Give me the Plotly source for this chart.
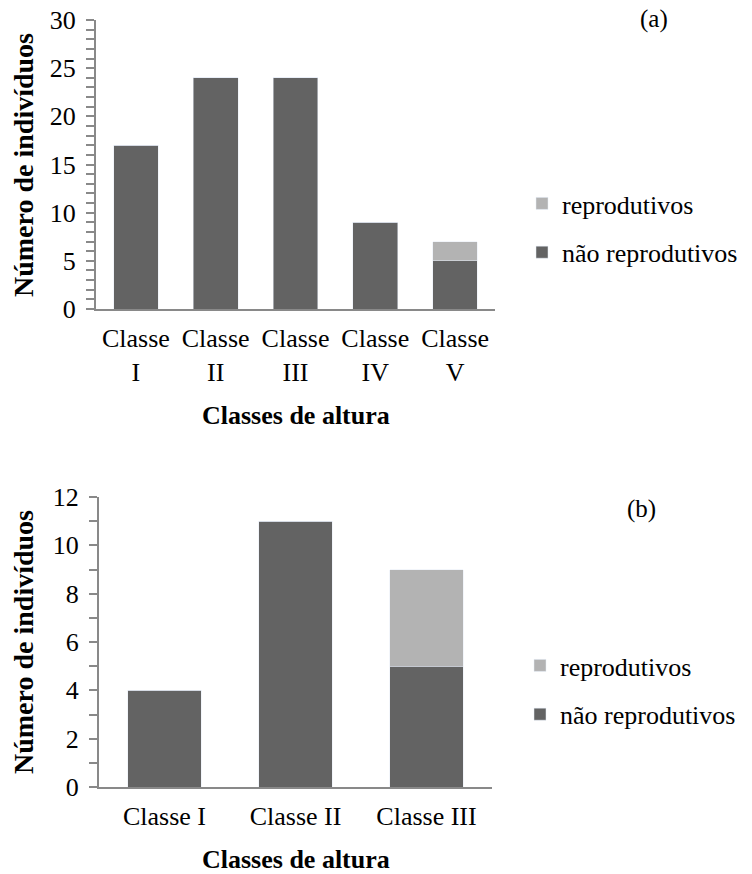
import plotly.graph_objects as go

# Data
cats_a = ["Classe<br>I", "Classe<br>II", "Classe<br>III", "Classe<br>IV", "Classe<br>V"]
nao_a = [17, 24, 24, 9, 5]
rep_a = [0, 0, 0, 0, 2]

cats_b = ["Classe I", "Classe II", "Classe III"]
nao_b = [4, 11, 5]
rep_b = [0, 0, 4]

dark = "#636363"
light = "#b3b3b3"
axis_col = "#898989"
FAM = "Times New Roman"


def f(size, bold=False):
    d = dict(family=FAM, size=size, color="black")
    if bold:
        d["weight"] = "bold"
    return d


fig = go.Figure()
fig.add_bar(x=cats_a, y=nao_a, name="não reprodutivos", marker_color=dark,
            xaxis="x", yaxis="y", legend="legend", legendgroup="a_nao", legendrank=2, width=0.56)
fig.add_bar(x=cats_a, y=rep_a, name="reprodutivos", marker_color=light,
            xaxis="x", yaxis="y", legend="legend", legendgroup="a_rep", legendrank=1, width=0.56)
fig.add_bar(x=cats_b, y=nao_b, name="não reprodutivos", marker_color=dark,
            xaxis="x2", yaxis="y2", legend="legend2", legendgroup="b_nao", legendrank=2, width=0.56)
fig.add_bar(x=cats_b, y=rep_b, name="reprodutivos", marker_color=light,
            xaxis="x2", yaxis="y2", legend="legend2", legendgroup="b_rep", legendrank=1, width=0.56)


def xax(domain, anchor):
    return dict(domain=domain, anchor=anchor, showline=True, linecolor=axis_col, linewidth=2,
                ticks="", tickfont=f(26), showgrid=False, zeroline=False,
                automargin=False, ticklabelstandoff=5)


def yax(domain, anchor, rng, dtick):
    return dict(domain=domain, anchor=anchor, range=rng, dtick=dtick,
                showline=True, linecolor=axis_col, linewidth=2,
                ticks="outside", ticklen=8, tickcolor=axis_col, tickwidth=1.5,
                minor=dict(dtick=1, ticks="outside", ticklen=8, tickcolor=axis_col, tickwidth=1.5),
                tickfont=f(26), showgrid=False, zeroline=False,
                automargin=False, ticklabelstandoff=5)


fig.update_layout(
    width=752, height=874,
    margin=dict(l=0, r=0, t=0, b=0),
    paper_bgcolor="white", plot_bgcolor="white",
    barmode="stack",
    font=f(26),
    xaxis=xax([96/752, 495/752], "y"),
    yaxis=yax([1-309/874, 1-20/874], "x", [0, 30], 5),
    xaxis2=xax([99/752, 492/752], "y2"),
    yaxis2=yax([1-787/874, 1-497/874], "x2", [0, 12], 2),
    legend=dict(x=522/752, y=1-180/874, xanchor="left", yanchor="top",
                traceorder="grouped", font=f(26), bgcolor="rgba(0,0,0,0)",
                itemwidth=30, tracegroupgap=12),
    legend2=dict(x=520/752, y=1-642/874, xanchor="left", yanchor="top",
                 traceorder="grouped", font=f(26), bgcolor="rgba(0,0,0,0)",
                 itemwidth=30, tracegroupgap=12),
    annotations=[
        dict(text="(a)", x=654/752, y=1-19/874, xref="paper", yref="paper",
             showarrow=False, font=f(25), xanchor="center", yanchor="middle"),
        dict(text="(b)", x=641/752, y=1-509/874, xref="paper", yref="paper",
             showarrow=False, font=f(25), xanchor="center", yanchor="middle"),
        dict(text="Classes de altura", x=(96+495)/2/752, y=1-415/874, xref="paper", yref="paper",
             showarrow=False, font=f(26, True), xanchor="center", yanchor="middle"),
        dict(text="Classes de altura", x=(99+492)/2/752, y=1-859/874, xref="paper", yref="paper",
             showarrow=False, font=f(26, True), xanchor="center", yanchor="middle"),
        dict(text="Número de indivíduos", x=23/752, y=1-165/874, xref="paper", yref="paper",
             showarrow=False, font=f(28, True), textangle=-90, xanchor="center", yanchor="middle"),
        dict(text="Número de indivíduos", x=23/752, y=1-642/874, xref="paper", yref="paper",
             showarrow=False, font=f(28, True), textangle=-90, xanchor="center", yanchor="middle"),
    ],
)

fig.write_html("out.html")
